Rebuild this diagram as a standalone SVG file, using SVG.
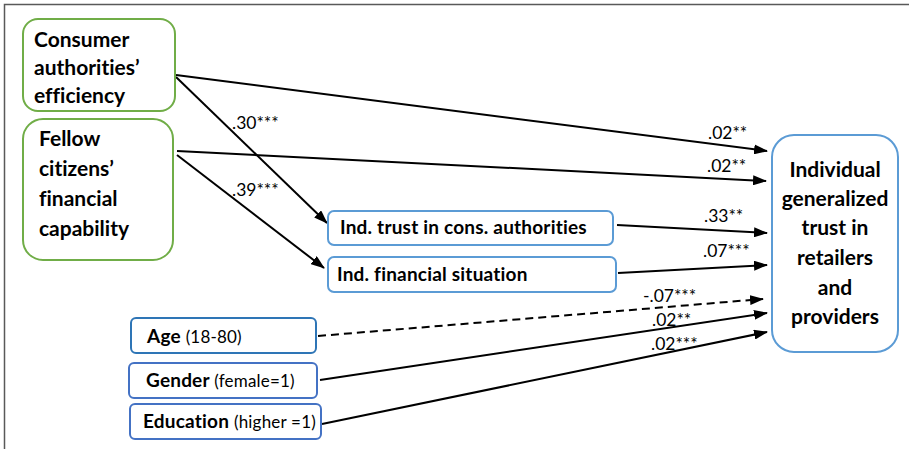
<svg xmlns="http://www.w3.org/2000/svg" width="909" height="449" viewBox="0 0 909 449">
<defs>
<marker id="ah" markerWidth="14" markerHeight="10" refX="13" refY="5" orient="auto" markerUnits="userSpaceOnUse">
<path d="M0,0 L14,5 L0,10 Z" fill="#000"/>
</marker>
<style>
text{font-variant-ligatures:none}
.g{fill:#fff;stroke:#70ad47;stroke-width:2}
.b{fill:#fff;stroke:#5b9bd5;stroke-width:2}
.d{fill:#fff;stroke:#4472c4;stroke-width:2}
.big{font-family:Lato,"Liberation Sans",sans-serif;font-weight:bold;font-size:21px;fill:#000}
.mid{font-family:Lato,"Liberation Sans",sans-serif;font-weight:bold;font-size:19px;letter-spacing:0.2px;fill:#000}
.nrm{font-weight:normal;font-size:17px}
.lbl{font-family:Lato,"Liberation Sans",sans-serif;font-size:17.5px;fill:#000}
.c{stroke:#000;stroke-width:2;fill:none;marker-end:url(#ah)}
.dash{stroke-dasharray:8 5}
</style>
</defs>
<rect width="909" height="449" fill="#fff"/>
<path d="M4.5,449 V4.5 H909" fill="none" stroke="#595959" stroke-width="1.5"/>

<g id="connectors">
<line class="c" x1="176" y1="75" x2="767" y2="151"/>
<line class="c" x1="177" y1="151" x2="766" y2="181"/>
<line class="c" x1="176" y1="77" x2="327" y2="223"/>
<line class="c" x1="177" y1="155" x2="324" y2="268"/>
<line class="c" x1="617" y1="225" x2="767" y2="233"/>
<line class="c" x1="618" y1="273" x2="767" y2="265"/>
<line class="c dash" x1="318" y1="336" x2="763" y2="299"/>
<line class="c" x1="320" y1="380" x2="767" y2="313"/>
<line class="c" x1="322" y1="424" x2="767" y2="332"/>
<text class="lbl" x="232" y="129">.30***</text>
<text class="lbl" x="232" y="196">.39***</text>
<text class="lbl" x="708" y="139">.02**</text>
<text class="lbl" x="707" y="172">.02**</text>
<text class="lbl" x="704" y="222">.33**</text>
<text class="lbl" x="703" y="257">.07***</text>
<text class="lbl" x="643" y="302">-.07***</text>
<text class="lbl" x="652" y="326">.02**</text>
<text class="lbl" x="651" y="350">.02***</text>
</g>

<g id="consumer">
<rect class="g" x="23" y="19" width="152" height="92" rx="15"/>
<text class="big" x="34" y="47">Consumer</text>
<text class="big" x="34" y="75">authorities’</text>
<text class="big" x="34" y="103">efficiency</text>
</g>

<g id="fellow">
<rect class="g" x="23" y="119" width="150" height="141" rx="20"/>
<text class="big" x="39" y="146">Fellow</text>
<text class="big" x="39" y="176">citizens’</text>
<text class="big" x="39" y="206">financial</text>
<text class="big" x="39" y="236">capability</text>
</g>

<g id="trust">
<rect class="b" x="328" y="211" width="285" height="34" rx="6"/>
<text class="mid" x="340" y="234">Ind. trust in cons. authorities</text>
</g>

<g id="finsit">
<rect class="b" x="328" y="257" width="288" height="35" rx="6"/>
<text class="mid" x="337" y="281">Ind. financial situation</text>
</g>

<g id="target">
<rect class="b" x="772" y="135" width="126" height="217" rx="22"/>
<text class="big" x="835" y="177" text-anchor="middle">Individual</text>
<text class="big" x="835" y="206" text-anchor="middle">generalized</text>
<text class="big" x="835" y="235" text-anchor="middle">trust in</text>
<text class="big" x="835" y="265" text-anchor="middle">retailers</text>
<text class="big" x="835" y="295" text-anchor="middle">and</text>
<text class="big" x="835" y="324" text-anchor="middle">providers</text>
</g>

<g id="age">
<rect x="131" y="318" width="185" height="35" rx="5" fill="#fff" stroke="#2e75b6" stroke-width="2"/>
<text class="mid" x="147" y="343">Age <tspan class="nrm">(18-80)</tspan></text>
</g>

<g id="gender">
<rect class="d" x="129" y="363" width="188" height="35" rx="5"/>
<text class="mid" x="146" y="387">Gender <tspan class="nrm">(female=1)</tspan></text>
</g>

<g id="education">
<rect class="d" x="130" y="404" width="191" height="35" rx="5"/>
<text class="mid" x="143" y="428">Education <tspan class="nrm">(higher =1)</tspan></text>
</g>
</svg>
